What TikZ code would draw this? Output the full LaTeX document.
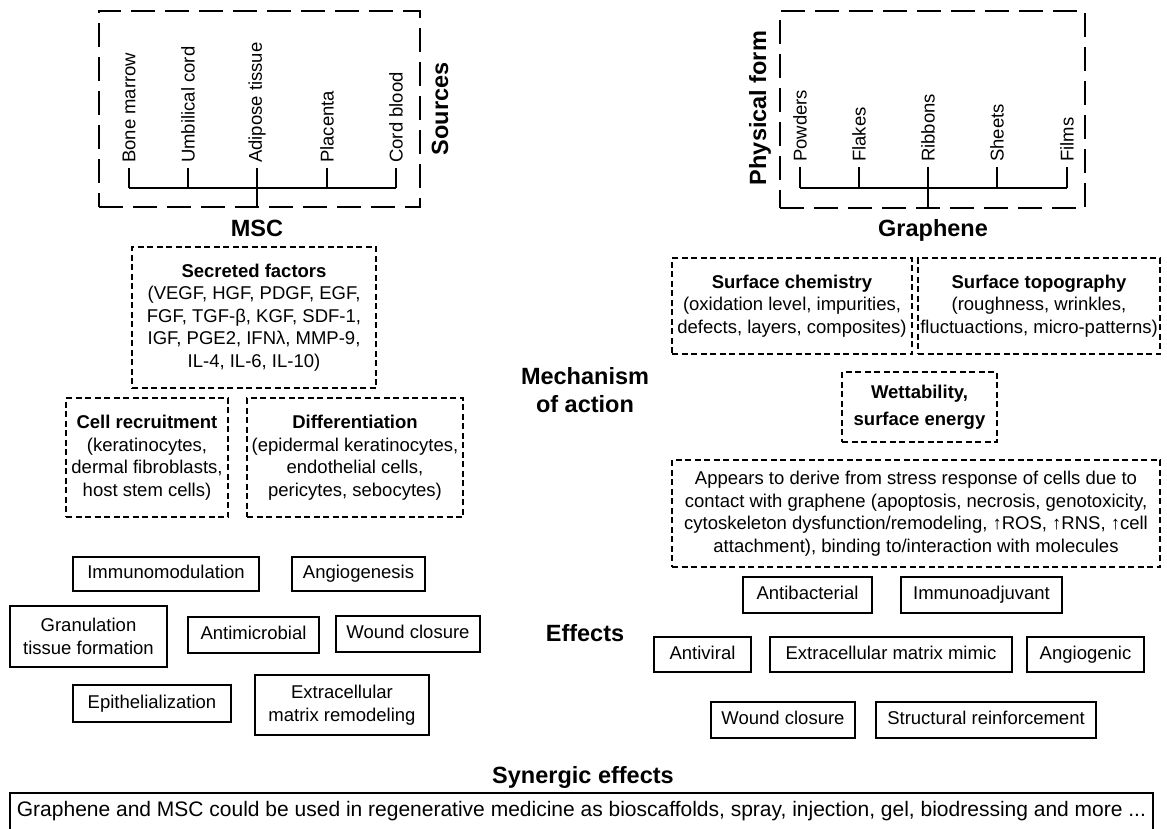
\documentclass[tikz,border=0pt]{standalone}
\usepackage{fontspec}
\setmainfont{Liberation Sans}
\tikzset{
  txt/.style={font=\fontsize{18.5}{22.5}\selectfont},
  head/.style={font=\fontsize{23.5}{28}\selectfont\bfseries, align=center},
  src/.style={txt, rotate=90, anchor=west, inner sep=0pt},
  grp/.style={draw, line width=2.2pt, dash pattern=on 24pt off 10pt, inner sep=0pt},
  mech/.style={txt, draw, line width=2pt, dash pattern=on 6pt off 3.5pt, align=center, inner sep=0pt},
  eff/.style={txt, draw, line width=2pt, align=center, inner sep=0pt},
  effone/.style={eff, text height=13.5pt, text depth=4pt},
  tree/.style={line width=2pt}
}
\begin{document}
\begin{tikzpicture}[x=1pt,y=-1pt]
\useasboundingbox (0,0) rectangle (1167,829);
% MSC sources
\node[grp, minimum width=321pt, minimum height=196pt] (srcbox) at (259.5,109) {};
\node[src] (bm) at (129,163) {Bone marrow};
\node[src] (uc) at (188,163) {Umbilical cord};
\node[src] (at) at (257,163) {Adipose tissue};
\node[src] (pl) at (327,163) {Placenta};
\node[src] (cb) at (396,163) {Cord blood};
\node[head, rotate=90] (sources) at (440,109) {Sources};
\coordinate (sbus) at (257,188);
\foreach \n in {bm,uc,at,pl,cb}
  \draw[tree] ([yshift=-5pt]\n.west) -- (\n.west |- sbus);
\draw[tree] (bm.west |- sbus) -- (cb.west |- sbus);
\draw[tree] (sbus) -- (at.west |- srcbox.south);
\node[head] (msc) at (257,228) {MSC};
% graphene physical form
\node[grp, minimum width=305pt, minimum height=197pt] (phybox) at (932.5,109.5) {};
\node[src] (pw) at (800,162) {Powders};
\node[src] (fl) at (859,162) {Flakes};
\node[src] (rb) at (928,162) {Ribbons};
\node[src] (sh) at (997,162) {Sheets};
\node[src] (fm) at (1067,162) {Films};
\node[head, rotate=90] (physical) at (760,108) {Physical form};
\coordinate (pbus) at (928,188);
\foreach \n in {pw,fl,rb,sh,fm}
  \draw[tree] ([yshift=-5pt]\n.west) -- (\n.west |- pbus);
\draw[tree] (pw.west |- pbus) -- (fm.west |- pbus);
\draw[tree] (pbus) -- (rb.west |- phybox.south);
\node[head] (graphene) at (933,230) {Graphene};
% mechanism of action
\node[head] (mech) at (585,390) {Mechanism\\of action};
\node[mech, minimum width=244pt, minimum height=141pt] (secr) at (254,317.5)
  {\textbf{Secreted factors}\\(VEGF, HGF, PDGF, EGF,\\FGF, TGF-β, KGF, SDF-1,\\IGF, PGE2, IFNλ, MMP-9,\\IL-4, IL-6, IL-10)};
\node[mech, minimum width=162pt, minimum height=119pt] (recr) at (147,457.5)
  {\textbf{Cell recruitment}\\(keratinocytes,\\dermal fibroblasts,\\host stem cells)};
\node[mech, minimum width=216pt, minimum height=119pt] (diff) at (355,457.5)
  {\textbf{Differentiation}\\(epidermal keratinocytes,\\endothelial cells,\\pericytes, sebocytes)};
\node[mech, minimum width=240pt, minimum height=96pt] (chem) at (792,306)
  {\textbf{Surface chemistry}\\(oxidation level, impurities,\\defects, layers, composites)};
\node[mech, minimum width=242pt, minimum height=96pt] (topo) at (1039,306)
  {\textbf{Surface topography}\\(roughness, wrinkles,\\fluctuactions, micro-patterns)};
\node[mech, minimum width=155pt, minimum height=70pt, font=\fontsize{18.5}{27}\selectfont\bfseries] (wett) at (919.5,407)
  {Wettability,\\surface energy};
\node[mech, minimum width=488pt, minimum height=107pt] (stress) at (916,513.5)
  {Appears to derive from stress response of cells due to\\contact with graphene (apoptosis, necrosis, genotoxicity,\\cytoskeleton dysfunction/remodeling, ↑ROS, ↑RNS, ↑cell\\attachment), binding to/interaction with molecules};
% effects
\node[head] (effects) at (585,633) {Effects};
\node[effone, minimum width=186pt, minimum height=34pt] (immuno) at (166,574) {Immunomodulation};
\node[effone, minimum width=133pt, minimum height=34pt] (angio) at (358.5,574) {Angiogenesis};
\node[eff, minimum width=157pt, minimum height=61pt] (granu) at (88.5,636.5) {Granulation\\tissue formation};
\node[effone, minimum width=131pt, minimum height=36pt] (antimic) at (253.5,635) {Antimicrobial};
\node[effone, minimum width=144pt, minimum height=36pt] (woundl) at (408,634) {Wound closure};
\node[effone, minimum width=158pt, minimum height=37pt] (epith) at (152,703.5) {Epithelialization};
\node[eff, minimum width=174pt, minimum height=60pt] (ecmr) at (342,705) {Extracellular\\matrix remodeling};
\node[effone, minimum width=129pt, minimum height=36pt] (antibac) at (807.5,595) {Antibacterial};
\node[effone, minimum width=161pt, minimum height=36pt] (immadj) at (981.5,595) {Immunoadjuvant};
\node[effone, minimum width=97pt, minimum height=35pt] (antivir) at (702.5,654.5) {Antiviral};
\node[effone, minimum width=242pt, minimum height=35pt] (ecmm) at (891,654.5) {Extracellular matrix mimic};
\node[effone, minimum width=117pt, minimum height=35pt] (angic) at (1085.5,654.5) {Angiogenic};
\node[effone, minimum width=144pt, minimum height=36pt] (woundr) at (783,720) {Wound closure};
\node[effone, minimum width=220pt, minimum height=36pt] (struct) at (986,720) {Structural reinforcement};
% synergy
\node[head] (synergy) at (583,777) {Synergic effects};
\node[effone, minimum width=1143pt, minimum height=38pt, font=\fontsize{21}{25}\selectfont] (synbox) at (581.5,812)
  {Graphene and MSC could be used in regenerative medicine as bioscaffolds, spray, injection, gel, biodressing and more ...};
\end{tikzpicture}
\end{document}
